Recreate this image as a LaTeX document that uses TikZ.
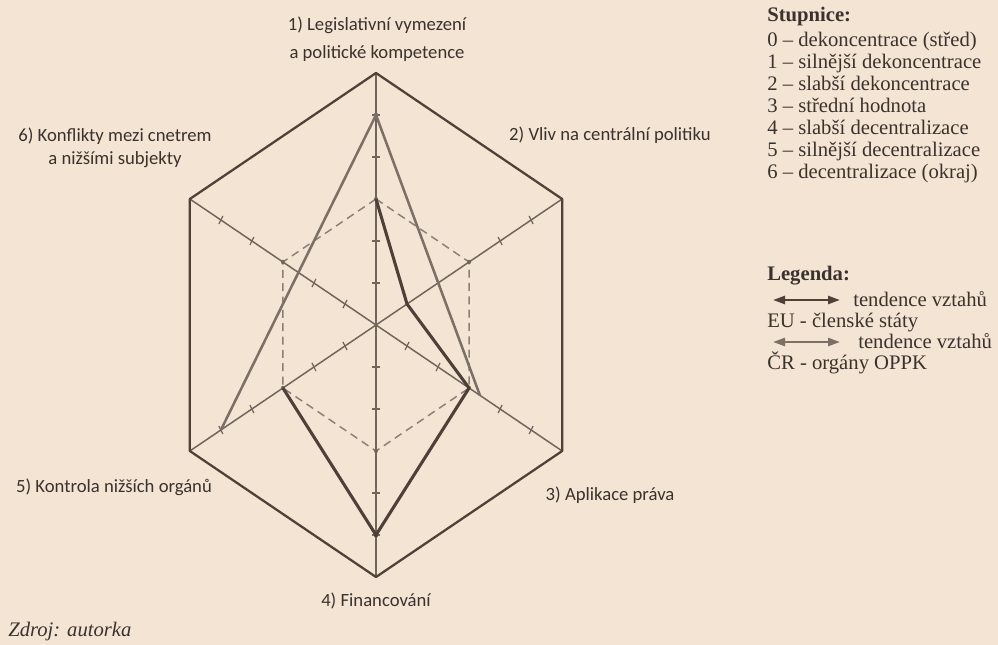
\documentclass[tikz,border=0pt]{standalone}
\usepackage{fontspec}
\setmainfont{Liberation Serif}
\newfontfamily\labelfont{Carlito}
\usetikzlibrary{calc,arrows.meta}

\definecolor{paper}{RGB}{243,228,212}
\definecolor{frame}{RGB}{80,65,56}
\definecolor{axisgray}{RGB}{112,100,91}
\definecolor{eucol}{RGB}{78,64,55}
\definecolor{crcol}{RGB}{124,112,102}
\definecolor{midcol}{RGB}{140,128,118}
\definecolor{txt}{RGB}{58,50,45}

\newcommand{\legsize}{\fontsize{15.5}{16.5}\selectfont}

\tikzset{
	axislabel/.style={font=\labelfont\fontsize{14}{21}\selectfont, text=txt, align=center, inner sep=0pt},
	legtext/.style={font=\legsize, text=txt, anchor=base west, inner sep=0pt},
	axistick/.style={axisgray, line width=0.9pt},
	legarrow/.style={line width=1.8pt, {Triangle[length=9pt,width=6pt]}-{Triangle[length=9pt,width=6pt]}},
}

\begin{document}
\begin{tikzpicture}[x=0.75pt,y=-0.75pt]
	\fill[paper] (0,0) rectangle (998,645);
	\useasboundingbox (0,0) rectangle (998,645);
	
	\begin{scope}[shift={(376,325)},yscale=-1,xscale=0.853]
		\coordinate (O) at (0,0);
		\foreach \k in {1,...,6} {
			\coordinate (v\k) at ({150-60*\k}:252);
			\coordinate (m\k) at ({150-60*\k}:126);
		}
		\foreach \k in {1,...,6}
		\draw[axisgray, line width=1.1pt] (O) -- (v\k);
		\foreach \k in {1,...,6}
		\foreach \l in {1,2,4,5} {
			\coordinate (t) at ($(O)!\l/6!(v\k)$);
			\draw[axistick] ($(t)!3.5pt!90:(v\k)$) -- ($(t)!3.5pt!-90:(v\k)$);
		}
		\draw[midcol, line width=1.1pt, dash pattern=on 6pt off 4pt]
		(m1) -- (m2) -- (m3) -- (m4) -- (m5) -- (m6) -- cycle;
		\foreach \k in {1,...,6}
		\fill[axisgray] (m\k) circle (2.2);
		\draw[frame, line width=1.7pt, line join=round]
		(v1) -- (v2) -- (v3) -- (v4) -- (v5) -- (v6) -- cycle;
		
		\foreach \k/\l in {1/3,2/1,3/3,4/5,5/3}
		\coordinate (eu\k) at ({150-60*\k}:{42*\l});
		\coordinate (cr1) at (90:210);
		\coordinate (cr3) at (-30:{42*3.35});
		\coordinate (cr5) at (-150:210);
		\draw[crcol, line width=1.9pt, line join=round] (cr5) -- (cr1) -- (cr3);
		\draw[eucol, line width=2.3pt, line join=round]
		(eu1) -- (eu2) -- (eu3) -- (eu4) -- (eu5);
		\fill[eucol] (eu4) circle (2.5);
		\fill[crcol] (cr1) circle (2.5);
	\end{scope}
	
	\node[axislabel] (lab1) at (377,39) {1) Legislativní vymezení\\a politické kompetence};
	\node[axislabel] (lab2) at (610,135) {2) Vliv na centrální politiku};
	\node[axislabel] (lab3) at (610,495) {3) Aplikace práva};
	\node[axislabel] (lab4) at (376,601) {4) Financování};
	\node[axislabel] (lab5) at (114,487) {5) Kontrola nižších orgánů};
	\node[axislabel, font=\labelfont\fontsize{14}{17.5}\selectfont] (lab6) at (115,148)
	{6) Konflikty mezi cnetrem\\a nižšími subjekty};
	
	\node[legtext, font=\legsize\bfseries] (scale) at (767,22) {Stupnice:};
	\foreach \n/\t in {0/dekoncentrace (střed),1/silnější dekoncentrace,2/slabší dekoncentrace,
		3/střední hodnota,4/slabší decentralizace,5/silnější decentralizace,6/decentralizace (okraj)}
	\node[legtext] (s\n) at (767,{47+22*\n}) {\n\ -- \t};
	
	\node[legtext, font=\legsize\bfseries] (legend) at (767,280) {Legenda:};
	\coordinate (a1l) at (773,300);
	\coordinate (a1r) at (840,300);
	\draw[legarrow, eucol] (a1l) -- (a1r);
	\node[legtext] (eutend) at (853,306) {tendence vztahů};
	\node[legtext] (eu) at (767,327) {EU - členské státy};
	\coordinate (a2l) at (773,342);
	\coordinate (a2r) at (840,342);
	\draw[legarrow, crcol] (a2l) -- (a2r);
	\node[legtext] (crtend) at (858,348) {tendence vztahů};
	\node[legtext] (cr) at (767,369) {ČR - orgány OPPK};
	
	\node[legtext, font=\legsize\itshape] (src) at (8,636) {Zdroj: autorka};
\end{tikzpicture}
\end{document}
